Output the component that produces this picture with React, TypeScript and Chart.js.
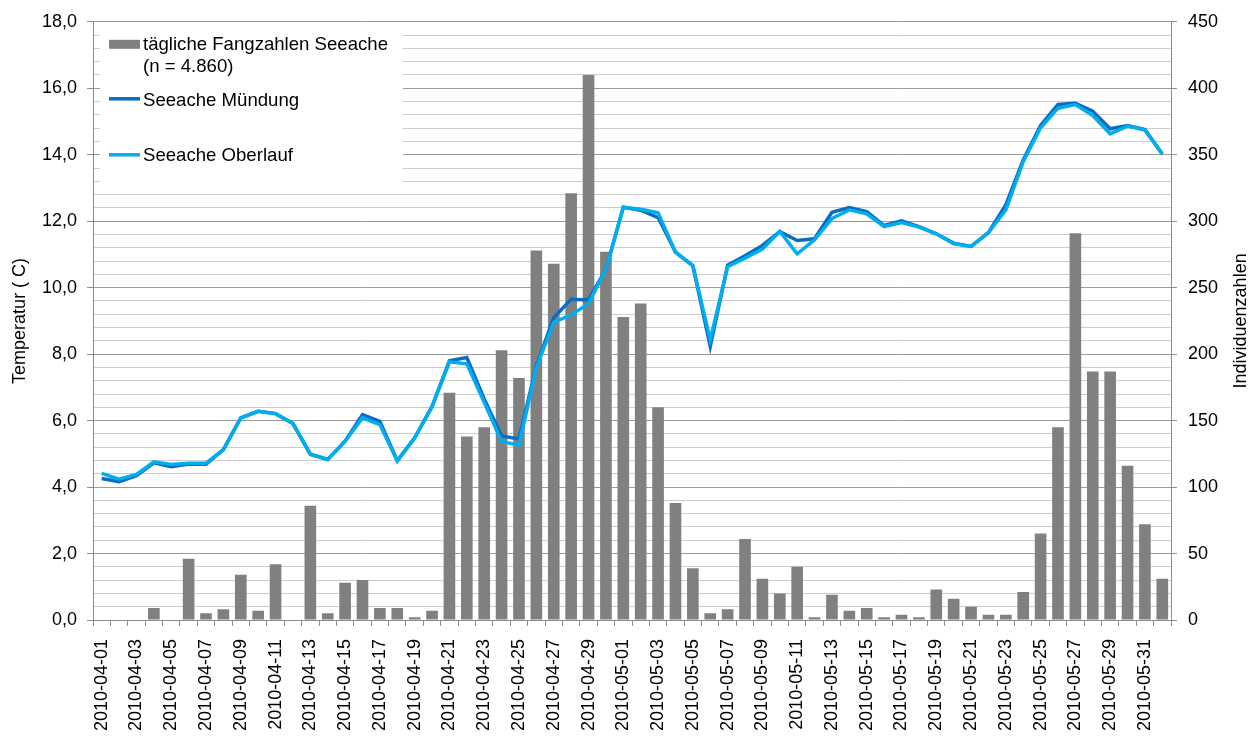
import React, { useEffect, useRef } from "react";
import { Chart, registerables } from "chart.js";

Chart.register(...registerables);

const categories = [
  "2010-04-01", "2010-04-02", "2010-04-03", "2010-04-04", "2010-04-05", "2010-04-06", "2010-04-07", "2010-04-08",
  "2010-04-09", "2010-04-10", "2010-04-11", "2010-04-12", "2010-04-13", "2010-04-14", "2010-04-15", "2010-04-16",
  "2010-04-17", "2010-04-18", "2010-04-19", "2010-04-20", "2010-04-21", "2010-04-22", "2010-04-23", "2010-04-24",
  "2010-04-25", "2010-04-26", "2010-04-27", "2010-04-28", "2010-04-29", "2010-04-30", "2010-05-01", "2010-05-02",
  "2010-05-03", "2010-05-04", "2010-05-05", "2010-05-06", "2010-05-07", "2010-05-08", "2010-05-09", "2010-05-10",
  "2010-05-11", "2010-05-12", "2010-05-13", "2010-05-14", "2010-05-15", "2010-05-16", "2010-05-17", "2010-05-18",
  "2010-05-19", "2010-05-20", "2010-05-21", "2010-05-22", "2010-05-23", "2010-05-24", "2010-05-25", "2010-05-26",
  "2010-05-27", "2010-05-28", "2010-05-29", "2010-05-30", "2010-05-31", "2010-06-01",
];

const dailyCatches = [
  0, 0, 0, 9, 0, 46, 5, 8, 34, 7,
  42, 0, 86, 5, 28, 30, 9, 9, 2, 7,
  171, 138, 145, 203, 182, 278, 268, 321, 410, 277,
  228, 238, 160, 88, 39, 5, 8, 61, 31, 20,
  40, 2, 19, 7, 9, 2, 4, 2, 23, 16,
  10, 4, 4, 21, 65, 145, 291, 187, 187, 116,
  72, 31,
];

const tempMuendung = [
  4.26, 4.16, 4.34, 4.73, 4.61, 4.69, 4.69, 5.13, 6.08, 6.28,
  6.21, 5.91, 4.99, 4.83, 5.38, 6.18, 5.98, 4.79, 5.48, 6.43,
  7.8, 7.9, 6.65, 5.54, 5.45, 7.65, 9.1, 9.65, 9.63, 10.55,
  12.42, 12.33, 12.11, 11.07, 10.66, 8.23, 10.68, 10.96, 11.27, 11.69,
  11.42, 11.47, 12.27, 12.41, 12.29, 11.87, 12.01, 11.84, 11.62, 11.34,
  11.24, 11.66, 12.49, 13.84, 14.88, 15.51, 15.55, 15.31, 14.78, 14.88,
  14.76, 14.02,
];

const tempOberlauf = [
  4.41, 4.24, 4.38, 4.76, 4.68, 4.72, 4.72, 5.13, 6.08, 6.28,
  6.21, 5.91, 4.99, 4.83, 5.38, 6.08, 5.88, 4.79, 5.48, 6.41,
  7.77, 7.71, 6.55, 5.37, 5.26, 7.6, 8.96, 9.18, 9.52, 10.55,
  12.42, 12.36, 12.25, 11.07, 10.66, 8.43, 10.63, 10.89, 11.16, 11.69,
  11.02, 11.44, 12.08, 12.34, 12.22, 11.84, 11.96, 11.82, 11.62, 11.32,
  11.24, 11.66, 12.34, 13.79, 14.81, 15.4, 15.51, 15.18, 14.63, 14.86,
  14.74, 14.02,
];

const legendLabels = ["tägliche Fangzahlen Seeache", "(n = 4.860)", "Seeache Mündung", "Seeache Oberlauf"];
const leftTitle = "Temperatur ( C)";
const rightTitle = "Individuenzahlen";

const FONT = '"Liberation Sans", Arial, sans-serif';
const BAR_COLOR = "#808080";
const DARK_BLUE = "#0A6CC2";
const LIGHT_BLUE = "#00AEEF";
const AXIS_COLOR = "#8c8c8c";

const overlayPlugin = {
  id: "overlay",
  afterDraw(chart: any) {
    const { ctx, chartArea } = chart;
    ctx.save();
    const lx = chartArea.left + 7;
    const ly = chartArea.top + 6;
    ctx.fillStyle = "#ffffff";
    ctx.fillRect(lx, ly, 303, 161);

    ctx.font = `18.6px ${FONT}`;
    ctx.fillStyle = "#000";
    ctx.textAlign = "left";
    ctx.textBaseline = "alphabetic";

    const sx = lx + 9;
    const tx = lx + 43;
    ctx.fillStyle = BAR_COLOR;
    ctx.fillRect(sx, ly + 12, 31, 9);
    ctx.fillStyle = "#000";
    ctx.fillText(legendLabels[0], tx, ly + 22);
    ctx.fillText(legendLabels[1], tx, ly + 44);

    ctx.lineWidth = 3.5;
    ctx.strokeStyle = DARK_BLUE;
    ctx.beginPath();
    ctx.moveTo(sx, ly + 71);
    ctx.lineTo(sx + 31, ly + 71);
    ctx.stroke();
    ctx.fillText(legendLabels[2], tx, ly + 78);

    ctx.strokeStyle = LIGHT_BLUE;
    ctx.beginPath();
    ctx.moveTo(sx, ly + 127);
    ctx.lineTo(sx + 31, ly + 127);
    ctx.stroke();
    ctx.fillText(legendLabels[3], tx, ly + 133);

    ctx.font = `18px ${FONT}`;
    const cy = (chartArea.top + chartArea.bottom) / 2;
    ctx.textAlign = "center";
    ctx.textBaseline = "middle";
    ctx.save();
    ctx.translate(20, cy);
    ctx.rotate(-Math.PI / 2);
    ctx.fillText(leftTitle, 0, 0);
    ctx.restore();
    ctx.save();
    ctx.translate(chart.width - 18, cy);
    ctx.rotate(-Math.PI / 2);
    ctx.fillText(rightTitle, 0, 0);
    ctx.restore();

    ctx.restore();
  },
};

export default function App() {
  const canvasRef = useRef<HTMLCanvasElement>(null);

  useEffect(() => {
    if (!canvasRef.current) return;
    const chart = new Chart(canvasRef.current, {
      type: "bar",
      data: {
        labels: categories,
        datasets: [
          {
            type: "line",
            label: legendLabels[3],
            data: tempOberlauf,
            yAxisID: "y",
            borderColor: LIGHT_BLUE,
            backgroundColor: LIGHT_BLUE,
            borderWidth: 3.5,
            pointRadius: 0,
            tension: 0,
            order: 1,
          } as any,
          {
            type: "line",
            label: legendLabels[2],
            data: tempMuendung,
            yAxisID: "y",
            borderColor: DARK_BLUE,
            backgroundColor: DARK_BLUE,
            borderWidth: 3.5,
            pointRadius: 0,
            tension: 0,
            order: 2,
          } as any,
          {
            type: "bar",
            label: legendLabels[0],
            data: dailyCatches,
            yAxisID: "y1",
            backgroundColor: BAR_COLOR,
            borderWidth: 0,
            categoryPercentage: 1,
            barPercentage: 0.67,
            order: 3,
          } as any,
        ],
      },
      options: {
        responsive: false,
        animation: false,
        layout: { padding: { top: 19, left: 0, right: 0, bottom: 0 } },
        plugins: {
          legend: { display: false },
          tooltip: { enabled: false },
        },
        scales: {
          x: {
            type: "category",
            offset: true,
            grid: {
              offset: true,
              drawOnChartArea: false,
              drawTicks: true,
              tickLength: 6,
              color: AXIS_COLOR,
            },
            border: { color: AXIS_COLOR, width: 1 },
            ticks: {
              autoSkip: false,
              maxRotation: 90,
              minRotation: 90,
              padding: 13,
              color: "#000",
              font: { family: FONT, size: 18 },
              callback: (_v: any, i: number) => (i % 2 === 0 ? categories[i] : ""),
            },
            afterFit: (s: any) => {
              s.height = 116;
            },
          },
          y: {
            position: "left",
            min: 0,
            max: 18,
            grid: {
              drawOnChartArea: false,
              drawTicks: true,
              tickLength: 6,
              color: AXIS_COLOR,
            },
            border: { color: AXIS_COLOR, width: 1 },
            ticks: {
              stepSize: 2,
              padding: 10,
              color: "#000",
              font: { family: FONT, size: 18 },
              callback: (v: any) => Number(v).toFixed(1).replace(".", ","),
            },
            afterFit: (s: any) => {
              s.width = 93;
            },
          },
          y1: {
            position: "right",
            min: 0,
            max: 450,
            grid: {
              drawOnChartArea: true,
              drawTicks: true,
              tickLength: 6,
              color: (c: any) => (c.tick && c.tick.value % 50 === 0 ? "#9c9c9c" : "#cccccc"),
              tickColor: (c: any) => (c.tick && c.tick.value % 50 === 0 ? AXIS_COLOR : "rgba(0,0,0,0)"),
            },
            border: { color: AXIS_COLOR, width: 1 },
            ticks: {
              stepSize: 10,
              autoSkip: false,
              padding: 11,
              color: "#000",
              font: { family: FONT, size: 18 },
              callback: (v: any) => (Number(v) % 50 === 0 ? String(v) : ""),
            },
            afterFit: (s: any) => {
              s.width = 88;
            },
          },
        },
      },
      plugins: [overlayPlugin],
    });
    return () => chart.destroy();
  }, []);

  return (
    <div style={{ position: "fixed", left: 0, top: 0, width: 1259, height: 736, background: "#fff" }}>
      <canvas ref={canvasRef} width={1259} height={736} style={{ display: "block" }} />
    </div>
  );
}
